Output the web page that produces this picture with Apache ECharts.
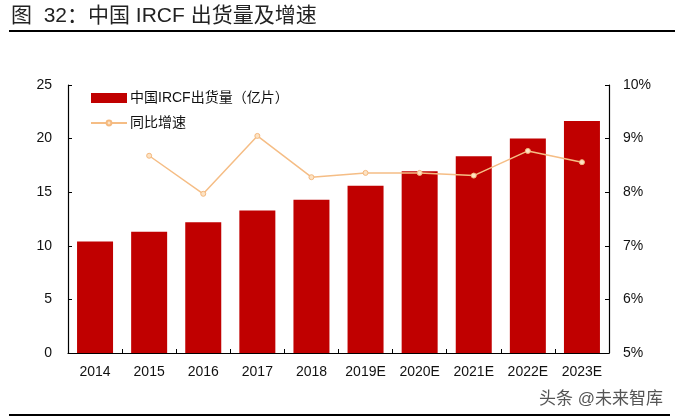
<!DOCTYPE html>
<html>
<head>
<meta charset="utf-8">
<style>
  html, body { margin: 0; padding: 0; background: #fff; }
  #chart { width: 675px; height: 420px; }
</style>
<script src="https://cdn.jsdelivr.net/npm/echarts@6/dist/echarts.min.js"></script>
</head>
<body>
<div id="chart"></div>
<script>
const years = ['2014', '2015', '2016', '2017', '2018', '2019E', '2020E', '2021E', '2022E', '2023E'];
const shipments = [10.4, 11.3, 12.2, 13.3, 14.3, 15.6, 16.95, 18.35, 20.0, 21.65];
const growth = [null, 8.68, 7.97, 9.05, 8.28, 8.36, 8.36, 8.31, 8.77, 8.56];

const leftTicks = { min: 0, max: 25, interval: 5 };
const rightTicks = { min: 5, max: 10, interval: 1 };

const barName = '中国IRCF出货量（亿片）';
const lineName = '同比增速';

const fontFamily = '"Liberation Sans", "Noto Sans CJK SC", sans-serif';
const axisLine = { show: true, lineStyle: { color: '#000', width: 1.2 } };
const axisTick = { show: true, inside: true, length: 4, lineStyle: { color: '#000', width: 1 } };
const legendText = { fontFamily, fontSize: 14, color: '#111', padding: [0, 0, 0, -2] };

const myChart = echarts.init(document.getElementById('chart'));

const option = {
  animation: false,
  backgroundColor: '#fff',
  textStyle: { fontFamily },
  title: {
    text: '图  32：中国 IRCF 出货量及增速',
    left: 6,
    top: 1,
    textStyle: { fontFamily, fontSize: 21, fontWeight: 'normal', color: '#222' }
  },
  legend: [
    {
      left: 86,
      top: 86,
      itemWidth: 36,
      itemHeight: 10,
      textStyle: legendText,
      data: [{ name: barName, icon: 'rect' }]
    },
    {
      left: 85,
      top: 111,
      itemWidth: 36,
      itemHeight: 6,
      textStyle: legendText,
      data: [lineName]
    }
  ],
  grid: { left: 68, right: 66, top: 85, bottom: 67 },
  xAxis: {
    type: 'category',
    data: years,
    boundaryGap: true,
    axisLine,
    axisTick,
    axisLabel: { color: '#111', fontSize: 14, margin: 12 }
  },
  yAxis: [
    {
      type: 'value',
      position: 'left',
      ...leftTicks,
      axisLine,
      axisTick,
      splitLine: { show: false },
      axisLabel: { color: '#111', fontSize: 14, margin: 16, padding: [3, 0, 0, 0] }
    },
    {
      type: 'value',
      position: 'right',
      ...rightTicks,
      axisLine,
      axisTick,
      splitLine: { show: false },
      axisLabel: { color: '#111', fontSize: 14, margin: 14, padding: [3, 0, 0, 0], formatter: '{value}%' }
    }
  ],
  graphic: [
    { type: 'line', shape: { x1: 9, y1: 31, x2: 675, y2: 31 }, style: { stroke: '#000', lineWidth: 2 } },
    { type: 'line', shape: { x1: 9, y1: 415, x2: 670, y2: 415 }, style: { stroke: '#000', lineWidth: 2 } },
    {
      type: 'text',
      left: 539,
      top: 391,
      style: { text: '头条 @未来智库', fontFamily, fontSize: 17, fill: '#555' }
    }
  ],
  series: [
    {
      name: barName,
      type: 'bar',
      yAxisIndex: 0,
      data: shipments,
      barWidth: 36,
      itemStyle: { color: '#c00000' }
    },
    {
      name: lineName,
      type: 'line',
      yAxisIndex: 1,
      data: growth,
      symbol: 'circle',
      symbolSize: 5,
      lineStyle: { color: '#f5bd85', width: 1.5 },
      itemStyle: { color: '#fde3c4', borderColor: '#f4b97f', borderWidth: 1 }
    }
  ]
};

myChart.setOption(option);
</script>
</body>
</html>
